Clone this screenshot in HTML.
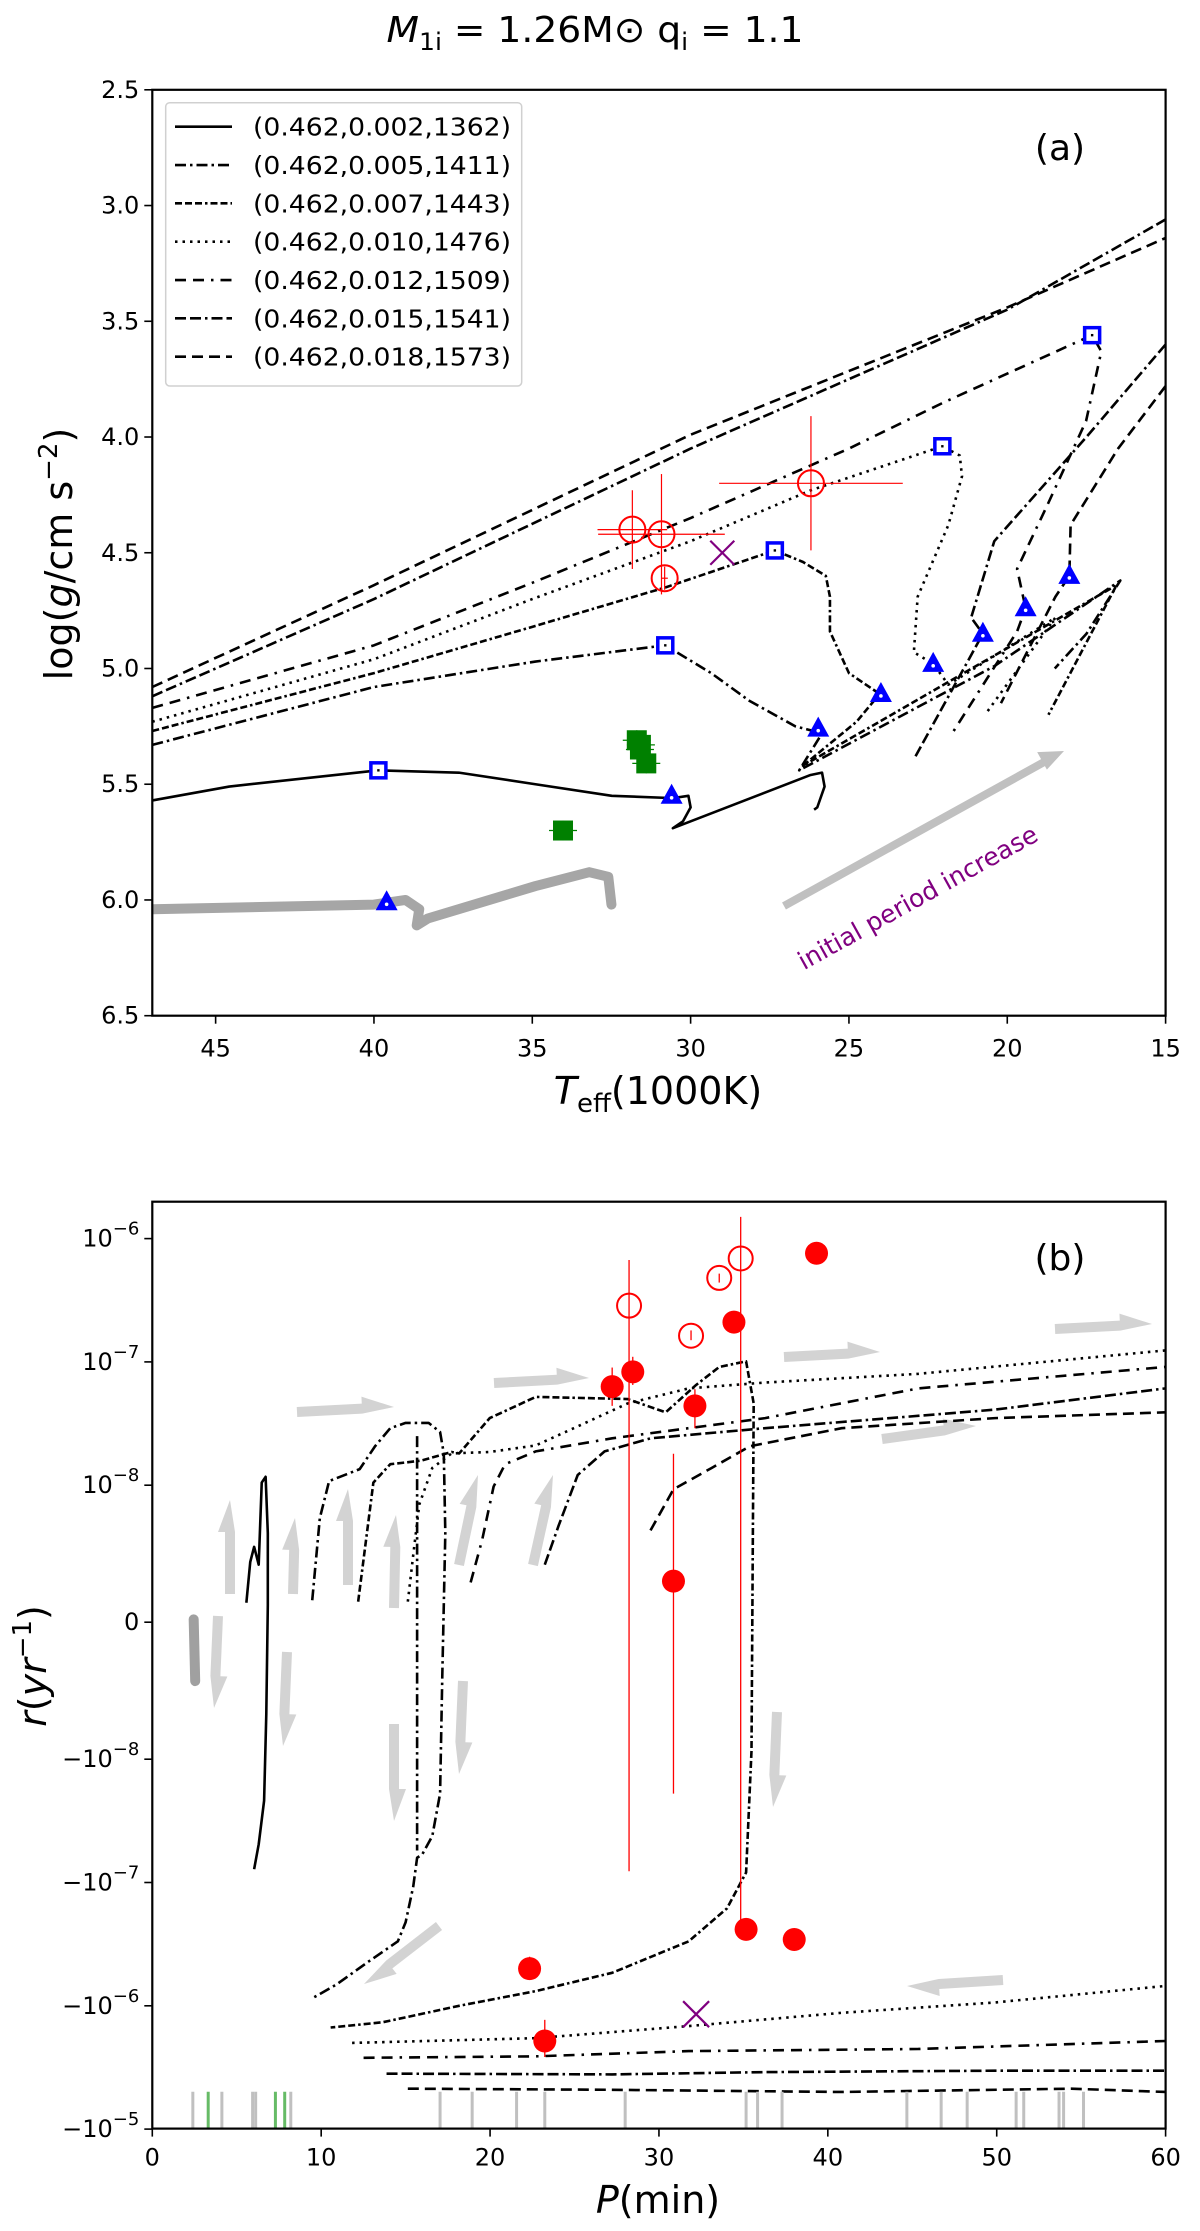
<!DOCTYPE html>
<html><head><meta charset="utf-8"><style>
body{margin:0;background:#fff}
svg{display:block;font-family:"DejaVu Sans","Liberation Sans",sans-serif}
</style></head><body>
<svg id="fig" width="1200" height="2231" viewBox="0 0 1200 2231" xmlns="http://www.w3.org/2000/svg">
<text x="595" y="42" font-size="36" text-anchor="middle" textLength="417" lengthAdjust="spacingAndGlyphs"><tspan font-style="italic">M</tspan><tspan font-size="24" dy="8">1i</tspan><tspan dy="-8"> = 1.26M</tspan><tspan>⊙</tspan><tspan> q</tspan><tspan font-size="24" dy="8">i</tspan><tspan dy="-8"> = 1.1</tspan></text>
<g id="pa"></g>
<g id="pb"></g>
</svg>
<script>
// ---------- Panel (a) data ----------
const aXTicks=[45,40,35,30,25,20,15];
const aYTicks=[2.5,3.0,3.5,4.0,4.5,5.0,5.5,6.0,6.5];
const legendLabels=["(0.462,0.002,1362)","(0.462,0.005,1411)","(0.462,0.007,1443)","(0.462,0.010,1476)","(0.462,0.012,1509)","(0.462,0.015,1541)","(0.462,0.018,1573)"];
const t1T=[47,44.57,39.86,37.32,34.9,32.49,30.56,30.07,30.0,30.24,30.56,26.21,25.85,25.77,26.0,26.1];
const t1G=[5.57,5.51,5.44,5.45,5.5,5.55,5.56,5.55,5.60,5.66,5.69,5.46,5.45,5.51,5.60,5.61];
const t2T=[47,40,34.9,30.8,29.35,28.14,26.69,25.85,26.57,20.41,16.43,17.5,18.5];
const t2G=[5.33,5.08,4.97,4.90,5.02,5.14,5.25,5.28,5.44,4.99,4.62,4.85,5.0];
const t3T=[47,40,35,30.8,27.34,26.45,25.73,25.6,25.6,25.0,24.03,24.76,26.45,16.55,18.7];
const t3G=[5.27,5.02,4.82,4.65,4.49,4.54,4.60,4.69,4.84,5.02,5.11,5.23,5.42,4.64,5.2];
const t4T=[47,40,35,30,26.2,22.05,21.5,21.43,21.86,22.83,22.95,22.34,21.86,18.48,20.65];
const t4G=[5.23,4.96,4.70,4.45,4.23,4.04,4.08,4.17,4.38,4.69,4.93,4.98,5.07,4.78,5.19];
const t5T=[47,40,35,30,25,22,17.32,17.03,17.51,18.72,19.69,19.42,19.69,21.74];
const t5G=[5.17,4.90,4.63,4.35,4.05,3.85,3.56,3.63,3.93,4.29,4.57,4.74,4.84,5.28];
const t6T=[47,40,30,20,15];
const t6G=[5.12,4.70,4.05,3.45,3.06];
const t6bT=[15,17.5,20.41,21.14,20.77,22.9];
const t6bG=[3.60,4.0,4.45,4.78,4.85,5.38];
const t7T=[47,40,30,20,15];
const t7G=[5.08,4.64,3.99,3.44,3.14];
const t7bT=[15,16.5,18.0,18.04,18.48,20.2];
const t7bG=[3.78,4.05,4.38,4.60,4.69,5.15];
const grayT=[47,40,39.0,38.57,38.65,38.3,34.9,33.2,32.6,32.5];
const grayG=[6.04,6.02,6.0,6.04,6.11,6.08,5.94,5.88,5.9,6.02];
const sqT=[39.86,30.8,27.34,22.05,17.32];
const sqG=[5.44,4.90,4.49,4.04,3.56];
const triT=[39.6,30.6,25.97,23.99,22.34,20.77,19.42,18.04];
const triG=[6.01,5.55,5.26,5.11,4.98,4.85,4.74,4.60];
const ocT=[31.84,30.92,30.82,26.2];
const ocG=[4.40,4.42,4.61,4.20];
const ocTerr=[1.1,2.0,0.1,2.9];
const ocGerr=[0.17,0.26,0.05,0.29];
const grT=[31.7,31.57,31.6,31.4,34.03];
const grG=[5.31,5.33,5.35,5.41,5.70];
const xAT=[29.0], xAG=[4.50];

// ---------- Panel (b) data ----------
const bXTicks=[0,10,20,30,40,50,60];
const bYTicks=[1e-6,1e-7,1e-8,0,-1e-8,-1e-7,-1e-6,-1e-5];
const bYLabels=["10|−6","10|−7","10|−8","0|","−10|−8","−10|−7","−10|−6","−10|−5"];
const s1P=[5.57,5.80,6.03,6.30,6.48,6.71,6.84,6.84,6.75,6.62,6.30,6.03];
const s1R=[1.42e-9,4.4e-9,5.5e-9,4.2e-9,1.05e-8,1.17e-8,6.5e-9,1.26e-9,-6.7e-9,-2.17e-8,-4.9e-8,-7.8e-8];
const s2P=[9.47,9.92,10.47,12.28,13.19,14.09,15.0,16.36,17.04,17.26,17.35,17.17,17.04,16.58,15.99,15.68,15.45,15.0,14.54,12.73,10.92,9.47];
const s2R=[1.6e-9,7.6e-9,1.08e-8,1.35e-8,2.07e-8,2.9e-8,3.2e-8,3.2e-8,2.7e-8,1.81e-8,6.5e-9,-4.0e-9,-1.9e-8,-4.2e-8,-5.9e-8,-6.3e-8,-1.08e-7,-2.1e-7,-3.0e-7,-4.45e-7,-6.7e-7,-8.7e-7];
const s2bP=[15.68,15.68];
const s2bR=[2.5e-8,-5.5e-8];
const s3P=[12.19,13.09,14.09,15.9,17.72,18.17,19.98,22.7,28.14,30.4,32.2,33.57,35.16,35.61,35.48,35.16,34.03,31.76,27.23,22.7,18.17,13.64,10.56];
const s3R=[1.5e-9,1.05e-8,1.48e-8,1.58e-8,1.86e-8,1.81e-8,3.5e-8,5.2e-8,5.0e-8,3.9e-8,6.5e-8,9.1e-8,1.01e-7,4.6e-8,-9.4e-9,-8.3e-8,-1.62e-7,-3.0e-7,-5.4e-7,-7.6e-7,-1.0e-6,-1.36e-6,-1.5e-6];
const s4P=[15.13,15.45,15.81,16.58,17.72,19.98,22.7,25.42,28.14,31.76,36.29,45.36,60];
const s4R=[1.5e-9,4.9e-9,8.6e-9,1.38e-8,1.81e-8,1.86e-8,2.1e-8,3.1e-8,4.6e-8,6.1e-8,6.8e-8,8.0e-8,1.24e-7];
const s4bP=[11.83,22.7,31.76,40.82,49.89,60];
const s4bR=[-2.0e-6,-1.83e-6,-1.46e-6,-1.14e-6,-9.4e-7,-6.9e-7];
const s5P=[18.85,19.53,20.21,20.89,22.7,27.23,31.76,36.29,45.36,60];
const s5R=[2.9e-9,6.0e-9,9.9e-9,1.48e-8,1.88e-8,2.4e-8,2.9e-8,3.5e-8,6.1e-8,9.1e-8];
const s5bP=[12.51,22.7,31.76,45.36,60];
const s5bR=[-2.64e-6,-2.57e-6,-2.33e-6,-2.24e-6,-1.93e-6];
const s6P=[23.24,24.06,25.19,26.78,29.5,36.29,49.89,60];
const s6R=[4.2e-9,7.05e-9,1.21e-8,1.88e-8,2.4e-8,2.9e-8,4.1e-8,6.1e-8];
const s6bP=[13.87,27.23,36.29,49.89,60];
const s6bR=[-3.55e-6,-3.6e-6,-3.45e-6,-3.36e-6,-3.36e-6];
const s7P=[29.5,30.86,33.12,35.39,40.82,49.89,60];
const s7R=[6.7e-9,9.7e-9,1.38e-8,2.07e-8,2.9e-8,3.5e-8,3.9e-8];
const s7bP=[15.13,27.23,40.82,54.42,60];
const s7bR=[-4.7e-6,-4.8e-6,-5.0e-6,-4.7e-6,-5.0e-6];
const sgP=[2.45,2.54];
const sgR=[2.1e-10,-4.3e-9];
const fillP=[27.23,28.45,32.13,30.86,34.44,39.33,35.16,38.01,22.34,23.24];
const fillR=[6.3e-8,8.3e-8,4.4e-8,3e-9,2.1e-7,7.6e-7,-2.4e-7,-2.9e-7,-5.0e-7,-1.93e-6];
const fillLo=[4.4e-8,6.5e-8,2.9e-8,-1.9e-8,2.1e-7,7.6e-7,-2.4e-7,-2.9e-7,-6.0e-7,-2.6e-6];
const fillHi=[9.0e-8,1.1e-7,6.0e-8,1.8e-8,2.1e-7,7.6e-7,-2.4e-7,-2.9e-7,-4.0e-7,-1.3e-6];
const openP=[28.23,31.9,33.57,34.84];
const openR=[2.86e-7,1.63e-7,4.8e-7,6.9e-7];
const openLo=[-8.1e-8,1.5e-7,4.4e-7,-2.4e-7];
const openHi=[6.7e-7,1.8e-7,5.2e-7,1.5e-6];
const xBP=[32.2], xBR=[-1.17e-6];
const rugGrayP=[2.4,4.12,5.94,6.12,8.2,17.04,18.94,21.57,23.24,28.0,35.16,35.84,37.29,44.68,46.71,48.25,51.15,51.6,53.69,53.96,55.14];
const rugGreenP=[3.31,7.29,7.84];

// ---------- scales ----------
const AL=152.3,AR=1165.6,AT=89.8,AB=1015.7;
const BT=1201.7,BB=2128.6;
const ax=T=>AL+(47-T)*(AR-AL)/32;
const ay=g=>AT+(g-2.5)*(AB-AT)/4;
const bx=P=>AL+P*(AR-AL)/60;
const by=r=>{const a=Math.abs(r);let o=a<1e-8?137*a/1e-8:137+123.3*Math.log10(a/1e-8);return 1622.2-(r<0?-o:o);};

const NS="http://www.w3.org/2000/svg";
function mk(parent,tag,attrs){const e=document.createElementNS(NS,tag);for(const k in attrs)e.setAttribute(k,attrs[k]);parent.appendChild(e);return e;}
const pa=document.getElementById('pa'), pb=document.getElementById('pb');
const dashes={solid:"",dd:"11,4,2.5,4",d7:"7,3,7,3,7,3,2.5,3",dot:"2.5,5",d12:"11,7,11,7,2.5,7",d15:"11,4,11,4,2.5,4",d18:"11,6"};
const styleList=["solid","dd","d7","dot","d12","d15","d18"];
function poly(parent,xs,ys,fx,fy,st,name,w,col){
  const p=mk(parent,'polyline',{points:xs.map((v,i)=>fx(v)+","+fy(ys[i])).join(" "),fill:"none",stroke:col||"#000","stroke-width":w||2.6,"stroke-dasharray":dashes[st]||"","stroke-linecap":w>4?"round":"butt","stroke-linejoin":"round"});
  
  
  return p;
}
const defs=mk(document.getElementById('fig'),'defs',{});
const ca=mk(defs,'clipPath',{id:'ca'});mk(ca,'rect',{x:AL,y:AT,width:AR-AL,height:AB-AT});
const cb=mk(defs,'clipPath',{id:'cb'});mk(cb,'rect',{x:AL,y:BT,width:AR-AL,height:BB-BT});
const ga=mk(pa,'g',{'clip-path':'url(#ca)'});
const gb=mk(pb,'g',{'clip-path':'url(#cb)'});

// ===== Panel a =====
poly(ga,grayT,grayG,ax,ay,"solid","gray-track",10,"#a6a6a6");
poly(ga,t1T,t1G,ax,ay,"solid","track-0.002");
poly(ga,t2T,t2G,ax,ay,"dd","track-0.005");
poly(ga,t3T,t3G,ax,ay,"d7","track-0.007");
poly(ga,t4T,t4G,ax,ay,"dot","track-0.010");
poly(ga,t5T,t5G,ax,ay,"d12","track-0.012");
poly(ga,t6T,t6G,ax,ay,"d15","track-0.015");
poly(ga,t6bT,t6bG,ax,ay,"d15","track-0.015-return");
poly(ga,t7T,t7G,ax,ay,"d18","track-0.018");
poly(ga,t7bT,t7bG,ax,ay,"d18","track-0.018-return");
(function(){
  const g=mk(pa,'g',{});
  
  
  const x1=784,y1=906,x2=1064,y2=751;const ang=Math.atan2(y2-y1,x2-x1);
  const c=Math.cos(ang),s=Math.sin(ang);const hx=x2-24*c,hy=y2-24*s;
  mk(g,'polygon',{points:`${x1-4*s},${y1+4*c} ${hx-4*s},${hy+4*c} ${hx-8*s},${hy+8*c} ${x2},${y2} ${hx+12*s},${hy-12*c} ${hx+4*s},${hy-4*c} ${x1+4*s},${y1-4*c}`,fill:"#c0c0c0"});
  const t=mk(pa,'text',{x:918,y:906,'font-size':25,fill:'#800080','text-anchor':'middle',transform:'rotate(-29 918 898)'});
  t.textContent='initial period increase';
  
  
})();
grT.forEach((T,i)=>{const x=ax(T),y=ay(grG[i]);
  mk(ga,'line',{x1:x-14,x2:x+14,y1:y,y2:y,stroke:'#008000','stroke-width':1.2});
  mk(ga,'line',{x1:x,x2:x,y1:y-10,y2:y+10,stroke:'#008000','stroke-width':1.2});
  const r=mk(ga,'rect',{x:x-10,y:y-10,width:20,height:20,fill:'#008000'});
  
  });
ocT.forEach((T,i)=>{const x=ax(T),y=ay(ocG[i]);
  mk(ga,'line',{x1:ax(T+ocTerr[i]),x2:ax(T-ocTerr[i]),y1:y,y2:y,stroke:'#f00','stroke-width':1.2});
  mk(ga,'line',{x1:x,x2:x,y1:ay(ocG[i]-ocGerr[i]),y2:ay(ocG[i]+ocGerr[i]),stroke:'#f00','stroke-width':1.2});
  const c=mk(ga,'circle',{cx:x,cy:y,r:13,fill:'none',stroke:'#f00','stroke-width':2});
  
  });
sqT.forEach((T,i)=>{const x=ax(T),y=ay(sqG[i]);
  const r=mk(ga,'rect',{x:x-7.5,y:y-7.5,width:15,height:15,fill:'#fff',stroke:'#0000ff','stroke-width':3.5});
  
  
  mk(ga,'rect',{x:x-1.2,y:y-1.2,width:2.4,height:2.4,fill:'#000'});});
triT.forEach((T,i)=>{const x=ax(T),y=ay(triG[i]);
  const p=mk(ga,'polygon',{points:`${x},${y-12} ${x-11},${y+8} ${x+11},${y+8}`,fill:'#0000ff'});
  
  
  mk(ga,'circle',{cx:x,cy:y+2,r:1.8,fill:'#fff'});});
xAT.forEach((T,i)=>{const x=ax(T),y=ay(xAG[i]);
  const p=mk(ga,'path',{d:`M${x-12},${y-12}L${x+12},${y+12}M${x-12},${y+12}L${x+12},${y-12}`,stroke:'#800080','stroke-width':2.2});
  
  });
mk(pa,'rect',{x:AL,y:AT,width:AR-AL,height:AB-AT,fill:'none',stroke:'#000','stroke-width':2.2});
aXTicks.forEach(T=>{const x=ax(T);mk(pa,'line',{x1:x,x2:x,y1:AB,y2:AB+8,stroke:'#000','stroke-width':1.6});
  const t=mk(pa,'text',{x:x,y:AB+41,'font-size':24,'text-anchor':'middle'});t.textContent=T;
  
  });
aYTicks.forEach(g=>{const y=ay(g);mk(pa,'line',{x1:AL-8,x2:AL,y1:y,y2:y,stroke:'#000','stroke-width':1.6});
  const t=mk(pa,'text',{x:AL-13,y:y+8,'font-size':24,'text-anchor':'end'});t.textContent=g.toFixed(1);
  
  });
(function(){
  const g=mk(pa,'g',{});
  
  
  mk(g,'rect',{x:165.7,y:102.7,width:356,height:283.3,rx:4,fill:'#fff','fill-opacity':0.85,stroke:'#d0d0d0','stroke-width':1.5});
  legendLabels.forEach((lab,i)=>{const y=126.7+i*38.33;
    mk(g,'line',{x1:175,x2:232,y1:y,y2:y,stroke:'#000','stroke-width':2.6,'stroke-dasharray':dashes[styleList[i]]});
    const t=mk(g,'text',{x:253,y:y+9,'font-size':25,textLength:258,lengthAdjust:'spacingAndGlyphs'});t.textContent=lab;
    
    });
})();
(function(){
  let t=mk(pa,'text',{x:1060,y:160,'font-size':36,'text-anchor':'middle'});t.textContent='(a)';
  
  
  t=mk(pa,'text',{x:0,y:0,'font-size':38,'text-anchor':'middle',transform:'translate(72 554) rotate(-90)'});
  t.innerHTML='log(<tspan font-style="italic">g</tspan>/cm s<tspan font-size="26" dy="-15">−2</tspan><tspan dy="15">)</tspan>';
  
  
  t=mk(pa,'text',{x:658,y:1104,'font-size':38,'text-anchor':'middle'});
  t.innerHTML='<tspan font-style="italic">T</tspan><tspan font-size="26" dy="8">eff</tspan><tspan dy="-8">(1000K)</tspan>';
  
  
})();

// ===== Panel b =====
const arrowsB=[[297,1412,394,1407],[494,1383,589,1378],[784,1357,880,1352],[1055,1329,1152,1324],[882,1439,976,1426],[1003,1980,907,1986],[439,1926,364,1984],[230,1594,230,1500],[293,1594,295,1518],[348,1585,348,1489],[394,1608,396,1515],[459,1565,478,1475],[533,1565,553,1475],[218,1616,214,1708],[287,1652,283,1746],[394,1724,394,1821],[463,1681,459,1774],[777,1712,773,1807]];
arrowsB.forEach(a=>{const [x1,y1,x2,y2]=a;const ang=Math.atan2(y2-y1,x2-x1);const c=Math.cos(ang),s=Math.sin(ang);
  const hx=x2-32*c,hy=y2-32*s;
  const p=mk(gb,'polygon',{points:`${x1-5*s},${y1+5*c} ${hx-5*s},${hy+5*c} ${x2},${y2} ${hx+12*s},${hy-12*c} ${hx+5*s},${hy-5*c} ${x1+5*s},${y1-5*c}`,fill:'#d3d3d3'});
  
  });
poly(gb,sgP,sgR,bx,by,"solid","gray-track-b",10,"#a0a0a0");
poly(gb,s1P,s1R,bx,by,"solid","track-b-0.002");
poly(gb,s2P,s2R,bx,by,"dd","track-b-0.005");
poly(gb,s2bP,s2bR,bx,by,"dd","track-b-0.005-vertical");
poly(gb,s3P,s3R,bx,by,"d7","track-b-0.007");
poly(gb,s4P,s4R,bx,by,"dot","track-b-0.010-upper");
poly(gb,s4bP,s4bR,bx,by,"dot","track-b-0.010-lower");
poly(gb,s5P,s5R,bx,by,"d12","track-b-0.012-upper");
poly(gb,s5bP,s5bR,bx,by,"d12","track-b-0.012-lower");
poly(gb,s6P,s6R,bx,by,"d15","track-b-0.015-upper");
poly(gb,s6bP,s6bR,bx,by,"d15","track-b-0.015-lower");
poly(gb,s7P,s7R,bx,by,"d18","track-b-0.018-upper");
poly(gb,s7bP,s7bR,bx,by,"d18","track-b-0.018-lower");
rugGrayP.forEach(P=>{const l=mk(gb,'line',{x1:bx(P),x2:bx(P),y1:2091.8,y2:BB,stroke:'#c0c0c0','stroke-width':3});
  
  });
rugGreenP.forEach(P=>{const l=mk(gb,'line',{x1:bx(P),x2:bx(P),y1:2091.8,y2:BB,stroke:'#66bb66','stroke-width':3});
  
  });
openP.forEach((P,i)=>{const x=bx(P);
  mk(gb,'line',{x1:x,x2:x,y1:by(openLo[i]),y2:by(openHi[i]),stroke:'#f00','stroke-width':1.3});
  const c=mk(gb,'circle',{cx:x,cy:by(openR[i]),r:12,fill:'none',stroke:'#f00','stroke-width':2});
  
  });
fillP.forEach((P,i)=>{const x=bx(P);
  mk(gb,'line',{x1:x,x2:x,y1:by(fillLo[i]),y2:by(fillHi[i]),stroke:'#f00','stroke-width':1.3});
  const c=mk(gb,'circle',{cx:x,cy:by(fillR[i]),r:11.5,fill:'#f00'});
  
  });
xBP.forEach((P,i)=>{const x=bx(P),y=by(xBR[i]);
  const p=mk(gb,'path',{d:`M${x-13},${y-13}L${x+13},${y+13}M${x-13},${y+13}L${x+13},${y-13}`,stroke:'#800080','stroke-width':2.2});
  
  });
mk(pb,'rect',{x:AL,y:BT,width:AR-AL,height:BB-BT,fill:'none',stroke:'#000','stroke-width':2.2});
bXTicks.forEach(P=>{const x=bx(P);mk(pb,'line',{x1:x,x2:x,y1:BB,y2:BB+8,stroke:'#000','stroke-width':1.6});
  const t=mk(pb,'text',{x:x,y:BB+37,'font-size':24,'text-anchor':'middle'});t.textContent=P;
  
  });
bYTicks.forEach((r,i)=>{const y=by(r);mk(pb,'line',{x1:AL-8,x2:AL,y1:y,y2:y,stroke:'#000','stroke-width':1.6});
  const [base,sup]=bYLabels[i].split('|');
  const t=mk(pb,'text',{x:AL-13,y:y+8,'font-size':24,'text-anchor':'end'});
  t.innerHTML=base+(sup?`<tspan font-size="18" dy="-12">${sup}</tspan>`:'');
  
  });
(function(){
  let t=mk(pb,'text',{x:1060,y:1270,'font-size':36,'text-anchor':'middle'});t.textContent='(b)';
  
  
  t=mk(pb,'text',{x:0,y:0,'font-size':38,'text-anchor':'middle',transform:'translate(46 1666) rotate(-90)'});
  t.innerHTML='<tspan font-style="italic">r</tspan>(<tspan font-style="italic">yr</tspan><tspan font-size="26" dy="-15">−1</tspan><tspan dy="15">)</tspan>';
  
  
  t=mk(pb,'text',{x:658,y:2213,'font-size':38,'text-anchor':'middle'});
  t.innerHTML='<tspan font-style="italic">P</tspan>(min)';
  
  
})();
</script>
</body></html>
